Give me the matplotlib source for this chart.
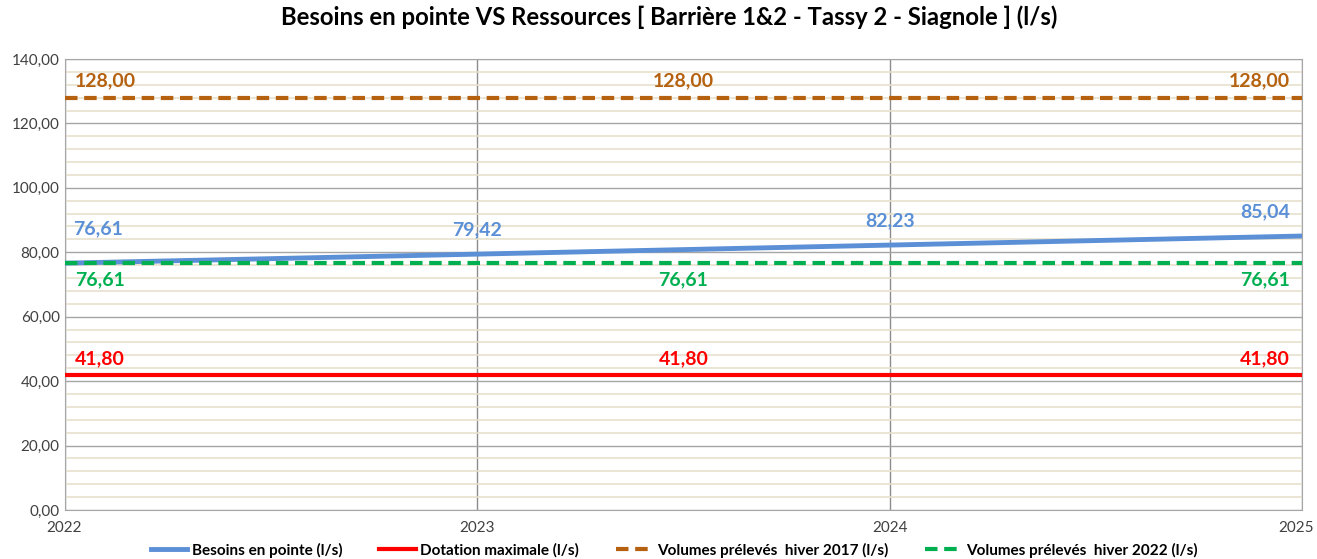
import matplotlib.pyplot as plt
import matplotlib.transforms as mtransforms
from matplotlib.ticker import MultipleLocator, FuncFormatter

plt.rcParams['font.family'] = ['Lato', 'DejaVu Sans']

# --- DATA ---
years = [2022, 2023, 2024, 2025]
besoins = [76.61, 79.42, 82.23, 85.04]
dotation = [41.80, 41.80, 41.80, 41.80]
hiver_2017 = [128.00, 128.00, 128.00, 128.00]
hiver_2022 = [76.61, 76.61, 76.61, 76.61]

c_blue = "#5b8fd6"
c_red = "#ff0000"
c_brown = "#b5610f"
c_green = "#00b050"

def fr(v):
    return f"{v:.2f}".replace(".", ",")

fig = plt.figure(figsize=(13.17, 5.59), dpi=100)
ax = fig.add_axes([0.049, 0.0877, 0.9397, 0.8068])

ax.plot(years, besoins, color=c_blue, lw=3.5, label="Besoins en pointe (l/s)", zorder=4)
ax.plot(years, dotation, color=c_red, lw=3, label="Dotation maximale (l/s)", zorder=4)
ax.plot(years, hiver_2017, color=c_brown, lw=3, ls=(0, (3, 1.6)), label="Volumes prélevés  hiver 2017 (l/s)", zorder=4)
ax.plot(years, hiver_2022, color=c_green, lw=3, ls=(0, (3, 1.6)), label="Volumes prélevés  hiver 2022 (l/s)", zorder=4)

ax.set_xlim(2022, 2025)
ax.set_ylim(0, 140)
ax.set_xticks(years)
ax.yaxis.set_major_locator(MultipleLocator(20))
ax.yaxis.set_minor_locator(MultipleLocator(4))
ax.yaxis.set_major_formatter(FuncFormatter(lambda v, p: fr(v)))
ax.grid(which="minor", axis="y", color="#e6e0cc", lw=1.2)
ax.grid(which="major", axis="y", color="#a6a6a6", lw=1)
ax.grid(which="major", axis="x", color="#8c8c8c", lw=1)
ax.set_axisbelow(True)
ax.tick_params(which="both", length=0, labelsize=11, colors="#404040")
ax.tick_params(axis="x", pad=8)
for s in ax.spines.values():
    s.set_color("#a6a6a6")

# keep the last year label inside the picture
last = ax.get_xticklabels()[-1]
last.set_transform(last.get_transform() + mtransforms.ScaledTranslation(-6 / 100, 0, fig.dpi_scale_trans))

lab = dict(fontsize=14, fontweight="bold")

# besoins: labels on each point
for i, (x, y) in enumerate(zip(years, besoins)):
    if i == 0:
        ha, xx, dy = "left", x + 0.02, 8
    elif i == len(years) - 1:
        ha, xx, dy = "right", x - 0.03, 5
    else:
        ha, xx, dy = "center", x, 5
    ax.text(xx, y + dy, fr(y), color=c_blue, ha=ha, va="bottom", **lab)

# constant series: labels at start, middle, end
for series, color, dy, va in [(hiver_2017, c_brown, 2.5, "bottom"),
                               (dotation, c_red, 2.5, "bottom"),
                               (hiver_2022, c_green, -2.5, "top")]:
    v = series[0]
    ax.text(2022.025, v + dy, fr(v), color=color, ha="left", va=va, **lab)
    ax.text(2023.5, v + dy, fr(v), color=color, ha="center", va=va, **lab)
    ax.text(2024.97, v + dy, fr(v), color=color, ha="right", va=va, **lab)

fig.suptitle("Besoins en pointe VS Ressources [ Barrière 1&2 - Tassy 2 - Siagnole ] (l/s)",
             x=0.508, fontsize=17.2, fontweight="bold", y=0.99)

leg = fig.legend(loc="lower center", ncol=4, frameon=False, bbox_to_anchor=(0.512, -0.022),
                 prop=dict(size=11, weight="bold"), handlelength=2.4, columnspacing=2.4,
                 handletextpad=0.3)

plt.savefig("out.png", dpi=100)
